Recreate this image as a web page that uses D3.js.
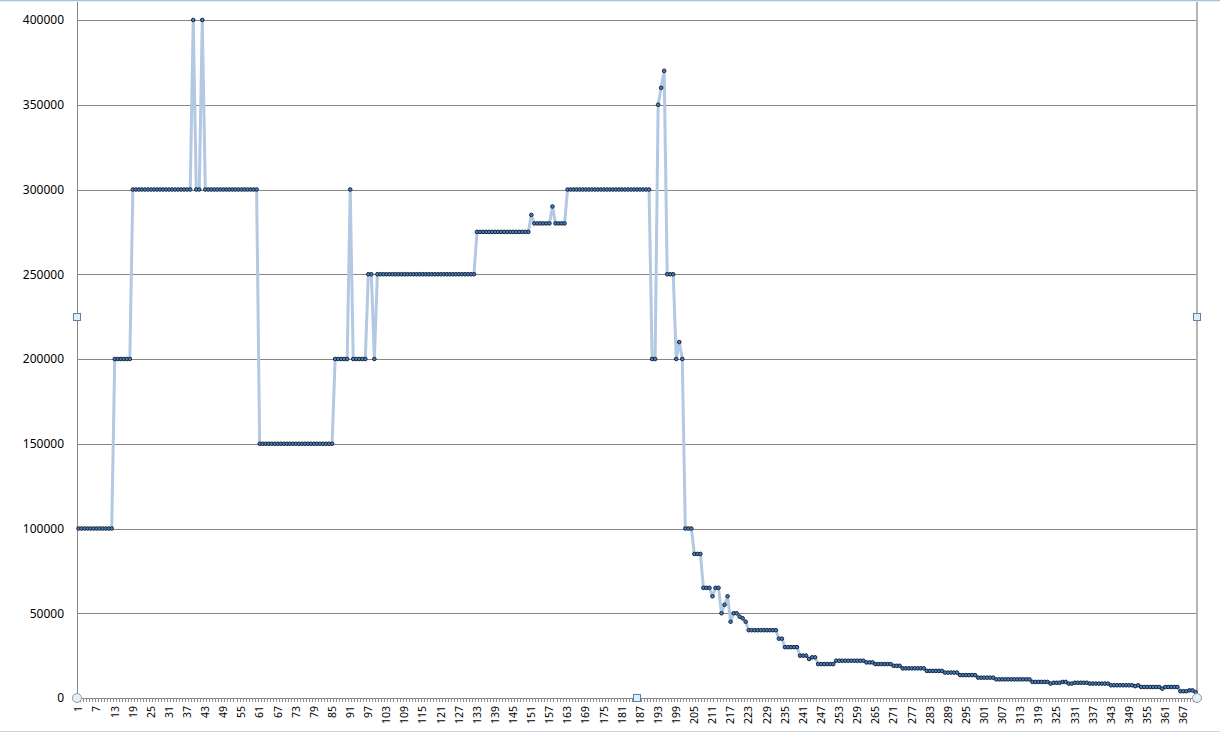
<!DOCTYPE html>
<html>
<head>
<meta charset="utf-8">
<script src="https://cdn.jsdelivr.net/npm/d3@7"></script>
<style>
  html, body { margin: 0; padding: 0; background: #ffffff; }
  svg { display: block; }
  text { font-family: "Noto Sans", "DejaVu Sans", sans-serif; fill: #000; }
</style>
</head>
<body>
<svg id="chart" width="1220" height="732"></svg>
<script>
// ---------------- DATA ----------------
const values = [
  // 1-12
  100000,100000,100000,100000,100000,100000,100000,100000,100000,100000,100000,100000,
  // 13-18
  200000,200000,200000,200000,200000,200000,
  // 19-38
  300000,300000,300000,300000,300000,300000,300000,300000,300000,300000,
  300000,300000,300000,300000,300000,300000,300000,300000,300000,300000,
  // 39-42
  400000,300000,300000,400000,
  // 43-60
  300000,300000,300000,300000,300000,300000,300000,300000,300000,
  300000,300000,300000,300000,300000,300000,300000,300000,300000,
  // 61-85
  150000,150000,150000,150000,150000,150000,150000,150000,150000,150000,
  150000,150000,150000,150000,150000,150000,150000,150000,150000,150000,
  150000,150000,150000,150000,150000,
  // 86-99
  200000,200000,200000,200000,200000,300000,200000,200000,200000,200000,200000,250000,250000,200000,
  // 100-132
  250000,250000,250000,250000,250000,250000,250000,250000,250000,250000,
  250000,250000,250000,250000,250000,250000,250000,250000,250000,250000,
  250000,250000,250000,250000,250000,250000,250000,250000,250000,250000,
  250000,250000,250000,
  // 133-150
  275000,275000,275000,275000,275000,275000,275000,275000,275000,
  275000,275000,275000,275000,275000,275000,275000,275000,275000,
  // 151-162
  285000,280000,280000,280000,280000,280000,280000,290000,280000,280000,280000,280000,
  // 163-190
  300000,300000,300000,300000,300000,300000,300000,300000,300000,300000,
  300000,300000,300000,300000,300000,300000,300000,300000,300000,300000,
  300000,300000,300000,300000,300000,300000,300000,300000,
  // 191-201
  200000,200000,350000,360000,370000,250000,250000,250000,200000,210000,200000,
  // 202-222
  100000,100000,100000,85000,85000,85000,65000,65000,65000,60000,65000,65000,
  50000,55000,60000,45000,50000,50000,48000,47000,45000,
  // 223-239
  40000,40000,40000,40000,40000,40000,40000,40000,40000,40000,
  35000,35000,30000,30000,30000,30000,30000,
  // 240-251
  25000,25000,25000,23000,24000,24000,20000,20000,20000,20000,20000,20000,
  // 252-273
  22000,22000,22000,22000,22000,22000,22000,22000,22000,22000,
  21000,21000,21000,20000,20000,20000,20000,20000,20000,19000,19000,19000,
  // 274-298
  17500,17500,17500,17500,17500,17500,17500,17500,
  16000,16000,16000,16000,16000,16000,
  15000,15000,15000,15000,15000,
  13500,13500,13500,13500,13500,13500,
  // 299-316
  12000,12000,12000,12000,12000,12000,
  11000,11000,11000,11000,11000,11000,11000,11000,11000,11000,11000,11000,
  // 317-342
  9500,9500,9500,9500,9500,9500,8500,9000,9000,9000,9500,9500,8500,8500,
  9000,9000,9000,9000,9000,8500,8500,8500,8500,8500,8500,8500,
  // 343-371
  7500,7500,7500,7500,7500,7500,7500,7500,7000,7500,
  6500,6500,6500,6500,6500,6500,6500,5500,6500,6500,6500,6500,6500,
  4000,4000,4000,4500,4500,3500
];
const categories = values.map((_, i) => i + 1);
const yTicks = [0, 50000, 100000, 150000, 200000, 250000, 300000, 350000, 400000];
const xTickLabels = [1,7,13,19,25,31,37,43,49,55,61,67,73,79,85,91,97,103,109,115,121,127,133,139,145,151,157,163,169,175,181,187,193,199,205,211,217,223,229,235,241,247,253,259,265,271,277,283,289,295,301,307,313,319,325,331,337,343,349,355,361,367];

// ---------------- LAYOUT ----------------
const svg = d3.select("#chart");
const L = 77, R = 1197, T = 20, B = 698;

const x = d3.scaleBand().domain(categories).range([L, R]);
const cx = d => x(d) + x.bandwidth() / 2;
const y = d3.scaleLinear().domain([0, 400000]).range([B, T]);

// window chrome lines
svg.append("line").attr("x1", 0).attr("x2", 1220).attr("y1", 0.5).attr("y2", 0.5)
  .attr("stroke", "#a7bfdb").attr("stroke-width", 1.5);
svg.append("line").attr("x1", 0).attr("x2", 1220).attr("y1", 731.5).attr("y2", 731.5)
  .attr("stroke", "#c9d5e3").attr("stroke-width", 1);

// gridlines
const grid = svg.append("g").attr("transform", `translate(${L},0)`)
  .call(d3.axisLeft(y).tickValues(yTicks.slice(1)).tickSize(-(R - L)).tickFormat(""));
grid.select(".domain").remove();
grid.selectAll("line").attr("stroke", "#868686").attr("shape-rendering", "crispEdges");

// y labels
const yAxis = svg.append("g").attr("transform", `translate(${L},0)`)
  .call(d3.axisLeft(y).tickValues(yTicks).tickSize(0).tickPadding(13).tickFormat(d3.format("d")));
yAxis.select(".domain").remove();
yAxis.selectAll("text").style("font-size", "12px").attr("font-family", null);

// left axis line
svg.append("line").attr("x1", L + 0.5).attr("x2", L + 0.5).attr("y1", 2).attr("y2", B)
  .attr("stroke", "#868686");
// right border
svg.append("line").attr("x1", R).attr("x2", R).attr("y1", 2).attr("y2", B)
  .attr("stroke", "#b5b5b5").attr("stroke-width", 2);

// x axis minor ticks (every category)
const xAxis = svg.append("g").attr("transform", `translate(0,${B})`)
  .call(d3.axisBottom(x).tickValues(categories).tickSize(4).tickFormat(""));
xAxis.select(".domain").attr("stroke", "#868686");
xAxis.selectAll(".tick line").attr("stroke", "#8a8a8a").attr("transform", `translate(${-x.bandwidth()/2},0)`);
xAxis.selectAll(".tick line").attr("shape-rendering", "crispEdges");

// x labels
svg.append("g").selectAll("text").data(xTickLabels).join("text")
  .attr("transform", d => `translate(${cx(d) + 3.8},706) rotate(-90)`)
  .attr("text-anchor", "end")
  .style("font-size", "10.5px")
  .text(d => d);

// line
const line = d3.line().x((d, i) => cx(categories[i])).y(d => y(d));
svg.append("path").datum(values).attr("d", line)
  .attr("fill", "none").attr("stroke", "#b3c8e3").attr("stroke-width", 3)
  .attr("stroke-linejoin", "round");

// markers
svg.append("g").selectAll("circle").data(values).join("circle")
  .attr("cx", (d, i) => cx(categories[i])).attr("cy", d => y(d)).attr("r", 1.8)
  .attr("fill", "#4a7ebb").attr("stroke", "#13233a").attr("stroke-width", 1);

// selection handles
const hc = [[L, B], [R, B]];
svg.append("g").selectAll("circle").data(hc).join("circle")
  .attr("cx", d => d[0]).attr("cy", d => d[1]).attr("r", 4.5)
  .attr("fill", "#e4eff4").attr("stroke", "#8d9cad").attr("stroke-width", 1);
const hs = [[L, 317], [R, 317], [(L + R) / 2, B]];
svg.append("g").selectAll("rect").data(hs).join("rect")
  .attr("x", d => d[0] - 3.5).attr("y", d => d[1] - 3.5).attr("width", 7).attr("height", 7)
  .attr("fill", "#dcf0f8").attr("stroke", "#5a83ad").attr("stroke-width", 1);
</script>
</body>
</html>
